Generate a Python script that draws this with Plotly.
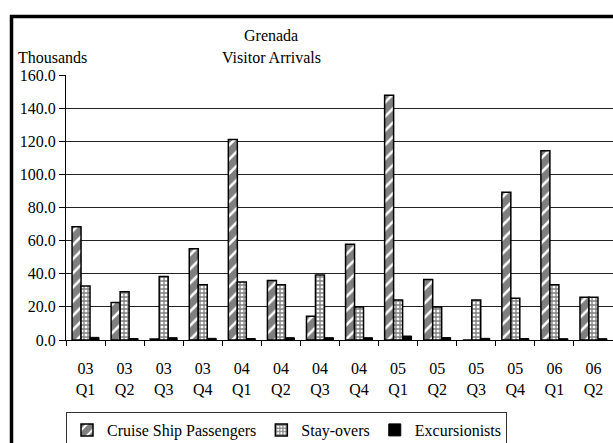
import plotly.graph_objects as go

# Quarterly visitor arrivals to Grenada, in thousands
quarters = ["03 Q1", "03 Q2", "03 Q3", "03 Q4",
            "04 Q1", "04 Q2", "04 Q3", "04 Q4",
            "05 Q1", "05 Q2", "05 Q3", "05 Q4",
            "06 Q1", "06 Q2"]
tick_labels = ["03<br>Q1", "03<br>Q2", "03<br>Q3", "03<br>Q4",
               "04<br>Q1", "04<br>Q2", "04<br>Q3", "04<br>Q4",
               "05<br>Q1", "05<br>Q2", "05<br>Q3", "05<br>Q4",
               "06<br>Q1", "06<br>Q2"]
cruise = [68.4, 22.7, 0.6, 55.1, 121.0, 36.0, 14.3, 57.8,
          147.8, 36.6, 0.0, 89.2, 114.3, 25.8]
stayovers = [32.6, 29.2, 38.4, 33.4, 35.0, 33.4, 39.2, 19.9,
             24.2, 19.9, 24.2, 25.2, 33.4, 25.8]
excursionists = [1.6, 0.9, 1.4, 1.0, 0.9, 1.4, 1.4, 1.4,
                 2.4, 1.5, 1.0, 0.9, 0.8, 0.8]

W, H = 613, 443
L, R, T, B = 66, 0, 75, 103
PW, PH = W - L - R, H - T - B

FONT = "Liberation Serif"


def px_x(p):
    return (p - L) / PW


def px_y(p):
    return (H - B - p) / PH


fig = go.Figure()
fig.add_trace(go.Bar(
    name="Cruise Ship Passengers", x=quarters, y=cruise,
    marker=dict(color="white",
                pattern=dict(shape="/", fgcolor="black", bgcolor="white",
                             size=10, solidity=0.75),
                line=dict(color="black", width=1.5)),
))
fig.add_trace(go.Bar(
    name="Stay-overs", x=quarters, y=stayovers,
    marker=dict(color="white",
                pattern=dict(shape="+", fgcolor="black", bgcolor="white",
                             size=4, solidity=0.55),
                line=dict(color="black", width=1.5)),
))
fig.add_trace(go.Bar(
    name="Excursionists", x=quarters, y=excursionists,
    marker=dict(color="black", line=dict(color="black", width=1)),
))

fig.update_layout(
    width=W, height=H,
    margin=dict(l=L, r=R, t=T, b=B, pad=0, autoexpand=False),
    paper_bgcolor="white", plot_bgcolor="white",
    font=dict(family=FONT, size=16, color="black"),
    barmode="group", bargap=0.31, bargroupgap=0,
    showlegend=True,
    legend=dict(orientation="h", x=0, xanchor="left",
                y=px_y(412), yanchor="top",
                bordercolor="#333", borderwidth=1, bgcolor="white",
                font=dict(family=FONT, size=16),
                traceorder="normal"),
    xaxis=dict(type="category", tickvals=quarters, ticktext=tick_labels,
               tickson="boundaries", ticks="outside", ticklen=5,
               tickcolor="black", showline=True, linecolor="black",
               linewidth=1, showgrid=False, zeroline=False,
               ticklabelstandoff=14,
               tickfont=dict(family=FONT, size=16), fixedrange=True),
    yaxis=dict(range=[0, 160], dtick=20, tickformat=".1f",
               ticks="outside", ticklen=6, tickcolor="black",
               showline=True, linecolor="black", linewidth=1,
               showgrid=True, gridcolor="#222", gridwidth=1,
               zeroline=False, tickfont=dict(family=FONT, size=16),
               fixedrange=True),
)

fig.add_annotation(text="Grenada", xref="paper", yref="paper",
                   x=px_x(271), y=px_y(35), xanchor="center",
                   yanchor="middle", showarrow=False,
                   font=dict(family=FONT, size=16))
fig.add_annotation(text="Visitor Arrivals", xref="paper", yref="paper",
                   x=px_x(271), y=px_y(57), xanchor="center",
                   yanchor="middle", showarrow=False,
                   font=dict(family=FONT, size=16))
fig.add_annotation(text="Thousands", xref="paper", yref="paper",
                   x=px_x(16), y=px_y(57), xanchor="left",
                   yanchor="middle", showarrow=False,
                   font=dict(family=FONT, size=16))

# Heavy outer frame of the chart area
fig.add_shape(type="rect", xref="paper", yref="paper",
              x0=px_x(11.5), x1=px_x(660), y0=px_y(470), y1=px_y(16.5),
              line=dict(color="black", width=3.5), fillcolor="rgba(0,0,0,0)",
              layer="above")

fig.write_html("out.html")
